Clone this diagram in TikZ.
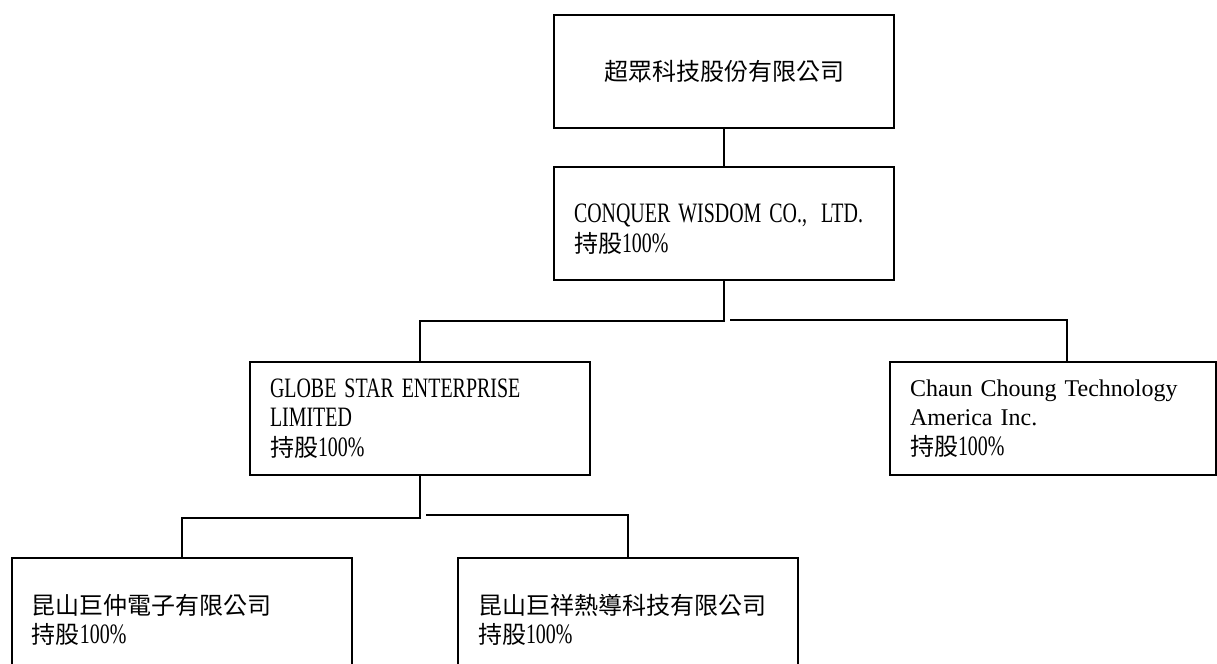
\documentclass[tikz,border=0pt]{standalone}
\usepackage{fontspec}
\usepackage{tikz}
\usetikzlibrary{calc}
\setmainfont{Liberation Serif}
\newfontfamily\cjk{Noto Sans CJK TC}
\newfontfamily\narrow[FakeStretch=0.71,Scale=1.17]{Liberation Serif}
\newcommand\stake{{\cjk 持股}{\narrow 100\%}}

\begin{document}
\begin{tikzpicture}[x=0.5pt,y=-0.5pt,
  box/.style={draw,line width=1pt,anchor=north west,minimum height=56.5pt,
    font=\fontsize{12}{14.75}\selectfont},
  lbox/.style={box,text width=150pt,inner xsep=10pt,align=left},
  link/.style={line width=1pt}]
\useasboundingbox (0,0) rectangle (1217,664);
\clip (0,0) rectangle (1217,664);

\node[box,minimum width=170pt] (parent) at (553,14) {\cjk 超眾科技股份有限公司};

\node[lbox] (conq) at (553,166) {\mbox{}\\\narrow CONQUER WISDOM CO.,\enspace LTD.\\\stake};

\node[lbox] (globe) at (249,361) {\narrow GLOBE STAR ENTERPRISE\\LIMITED\\\stake};
\node[lbox,text width=143pt] (chaun) at (889,361) {Chaun Choung Technology\\America Inc.\\\stake};

\node[lbox,minimum height=57pt] (sub1) at (11,557) {\mbox{}\\{\cjk 昆山巨仲電子有限公司}\\\stake};
\node[lbox,minimum height=57pt] (sub2) at (457,557) {\mbox{}\\{\cjk 昆山巨祥熱導科技有限公司}\\\stake};

\draw[link] (parent) -- (conq);
\draw[link] (conq.south) -- ++(0,40) -| (globe.north);
\draw[link] ($(conq.south)+(6,39)$) -| ($(chaun.north)+(14,0)$);
\draw[link] (globe.south) -- ++(0,42) -| (sub1.north);
\draw[link] ($(globe.south)+(6,39)$) -| (sub2.north);
\end{tikzpicture}
\end{document}
